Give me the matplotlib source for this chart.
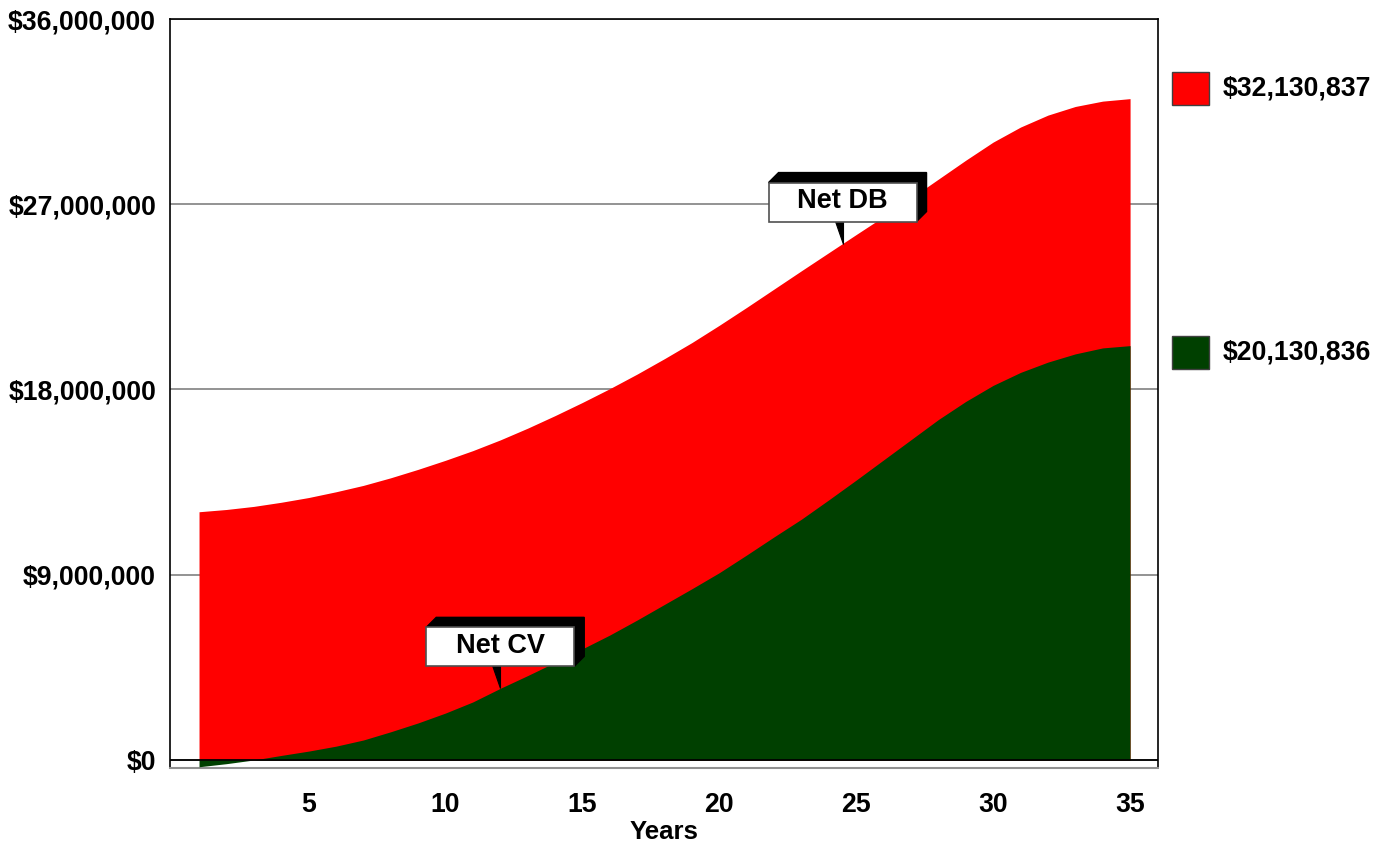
import matplotlib
matplotlib.use("Agg")
import matplotlib.pyplot as plt
import numpy as np
from matplotlib.patches import Polygon, Rectangle
from matplotlib.ticker import FuncFormatter
from matplotlib.transforms import Affine2D

plt.rcParams["font.family"] = ["Liberation Sans", "DejaVu Sans"]
plt.rcParams["font.weight"] = "bold"

# policy years and values in $ millions
years = list(range(1, 36))
net_db = [12.06, 12.17, 12.32, 12.52, 12.75, 13.03, 13.34, 13.71, 14.12, 14.56,
          15.03, 15.55, 16.12, 16.73, 17.37, 18.04, 18.75, 19.50, 20.28, 21.12,
          21.99, 22.88, 23.77, 24.65, 25.53, 26.40, 27.30, 28.22, 29.14, 30.02,
          30.75, 31.33, 31.75, 32.01, 32.130837]
net_cv = [-0.33, -0.18, 0.00, 0.22, 0.43, 0.67, 0.97, 1.37, 1.80, 2.28,
          2.82, 3.48, 4.10, 4.74, 5.40, 6.07, 6.80, 7.56, 8.32, 9.10,
          9.96, 10.84, 11.70, 12.64, 13.60, 14.58, 15.56, 16.54, 17.42, 18.20,
          18.83, 19.33, 19.73, 20.02, 20.130836]

series_names = ["Net DB", "Net CV"]
series_colors = ["#ff0000", "#004000"]
callout_years = [24.5, 12.0]

y_ticks = [0, 9, 18, 27, 36]
x_ticks = [5, 10, 15, 20, 25, 30, 35]

W, H = 1390, 848
fig = plt.figure(figsize=(W / 100, H / 100), dpi=100)
ax = fig.add_axes([170 / W, 1 - 768 / H, 988 / W, 749 / H])

x = np.array(years)
db = np.array(net_db) * 1e6
cv = np.array(net_cv) * 1e6

ax.fill_between(x, 0, db, color=series_colors[0], lw=0, zorder=2)
ax.fill_between(x, 0, cv, color=series_colors[1], lw=0, zorder=3)
ax.axhline(0, color="black", lw=1.3, zorder=5)

ax.set_xlim(-0.06, 36.02)
ax.set_ylim(-0.39e6, 36e6)
ax.set_yticks([v * 1e6 for v in y_ticks])
ax.yaxis.set_major_formatter(FuncFormatter(lambda v, p: f"${v:,.0f}"))
ax.set_xticks(x_ticks)
ax.tick_params(axis="both", length=0, labelsize=19.2)
ax.tick_params(axis="y", pad=10)
ax.tick_params(axis="x", pad=17)
ax.grid(axis="y", color="#808080", lw=1.2)
ax.set_axisbelow(True)
ax.set_xlabel("Years", fontsize=18.5, fontweight="bold", labelpad=2)

for side in ["left", "top", "right"]:
    ax.spines[side].set_color("black")
    ax.spines[side].set_linewidth(1.2)
ax.spines["bottom"].set_color("#909090")
ax.spines["bottom"].set_linewidth(1.5)


def callout(xv, yv, text):
    # box with a black 3D shadow and a pointer, sized in pixels
    tx, ty = ax.transData.transform((xv, yv))
    tr = Affine2D().translate(tx, ty)
    l, r, b, t, d = -74, 74, 22, 61, 10
    shadow = Polygon([(l, t), (l + d, t + d), (r + d, t + d), (r + d, b + d), (r, b)],
                     closed=True, fc="black", ec="black", lw=1, transform=tr)
    ptr = Polygon([(-8, b + 1), (0, b + 1), (0, 0)], closed=True,
                  fc="black", ec="black", lw=0.8, transform=tr)
    box = Rectangle((l, b), r - l, t - b, fc="white", ec="#505050", lw=1.2,
                    transform=tr)
    for p in (shadow, ptr, box):
        fig.add_artist(p)
    fig.text(0, (b + t) / 2 + 1, text, transform=tr, ha="center", va="center",
             fontsize=19.5, fontweight="bold")


callout(callout_years[0], np.interp(callout_years[0], x, db), series_names[0])
callout(callout_years[1], np.interp(callout_years[1], x, cv), series_names[1])

# legend: final values next to colour swatches
legend_y = [88.5, 352]
for val, col, ly in zip([db[-1], cv[-1]], series_colors, legend_y):
    fig.add_artist(Rectangle((1172 / W, 1 - (ly + 16.5) / H), 37 / W, 33 / H,
                             transform=fig.transFigure, fc=col, ec="#404040", lw=1))
    fig.text(1223 / W, 1 - ly / H, f"${val:,.0f}", ha="left", va="center",
             fontsize=19.2, fontweight="bold")

fig.savefig("out.png", dpi=100)
